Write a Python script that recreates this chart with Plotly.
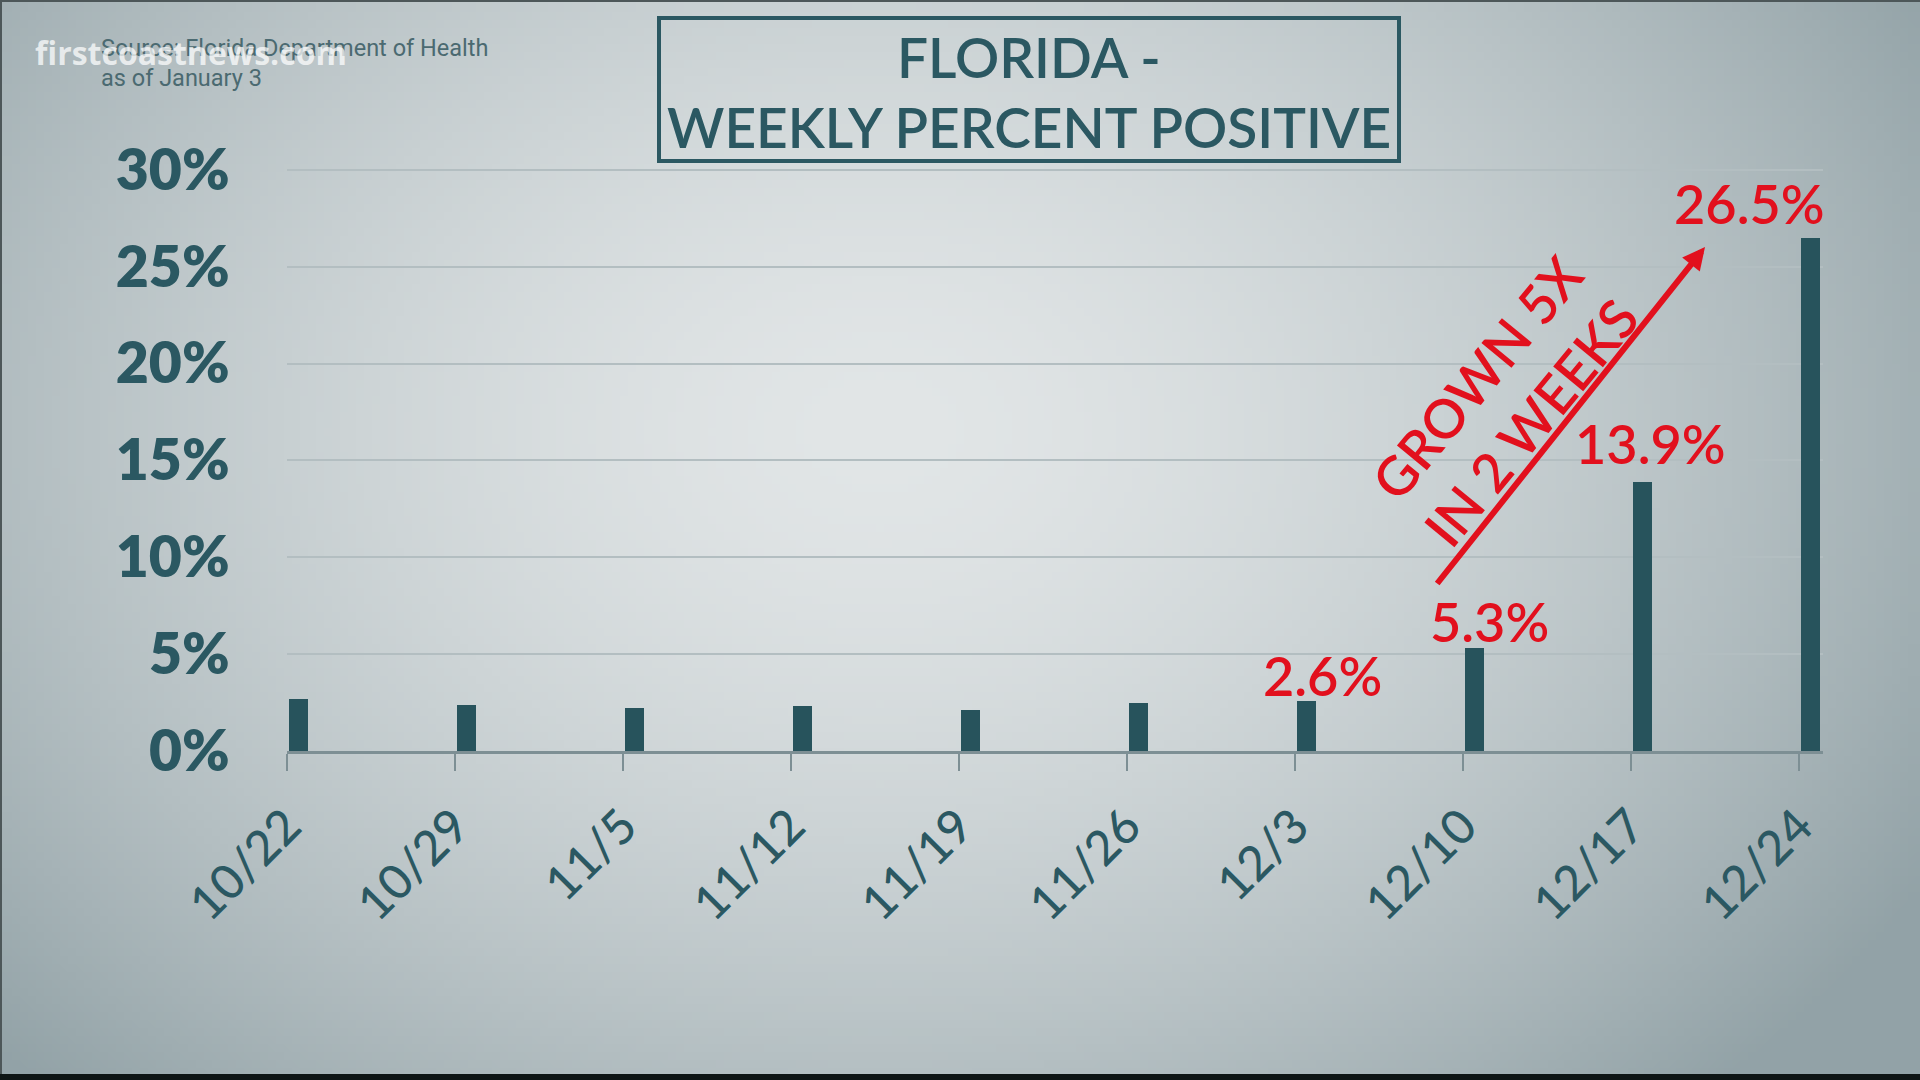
import base64
import struct
import zlib

import numpy as np
import plotly.graph_objects as go

# ---------------- data ----------------
weeks = ["10/22", "10/29", "11/5", "11/12", "11/19", "11/26", "12/3", "12/10", "12/17", "12/24"]
pct_positive = [2.7, 2.4, 2.2, 2.3, 2.1, 2.5, 2.6, 5.3, 13.9, 26.5]
y_ticks = [0, 5, 10, 15, 20, 25, 30]
y_tick_text = ["0%", "5%", "10%", "15%", "20%", "25%", "30%"]
labelled_weeks = ["12/3", "12/10", "12/17", "12/24"]
title_lines = ["FLORIDA -", "WEEKLY PERCENT POSITIVE"]
source_lines = ["Source: Florida Department of Health", "as of January 3"]
callout_lines = ["GROWN 5X", "IN 2 WEEKS"]
watermark = "firstcoastnews.com"

# ---------------- layout constants ----------------
W, H = 1920, 1080
L, R, T, B = 287, 97, 164, 329
PW, PH = W - L - R, H - T - B
TEAL = "#27535c"
TEXT_TEAL = "#2b5862"
RED = "#e2101d"
BAR_OFFSET, BAR_WIDTH = 0.013, 0.112
X_RANGE = [0.0, 9.145]
Y_RANGE = [0, 30.3]


def px(x):
    return (x - L) / PW


def py(y):
    return 1 - (y - T) / PH


# ---------------- background gradient ----------------
def png_uri(arr):
    h, w, _ = arr.shape
    raw = b"".join(b"\x00" + arr[i].tobytes() for i in range(h))

    def chunk(t, d):
        c = struct.pack(">I", len(d)) + t + d
        return c + struct.pack(">I", zlib.crc32(t + d) & 0xFFFFFFFF)

    png = (b"\x89PNG\r\n\x1a\n"
           + chunk(b"IHDR", struct.pack(">IIBBBBB", w, h, 8, 2, 0, 0, 0))
           + chunk(b"IDAT", zlib.compress(raw, 9))
           + chunk(b"IEND", b""))
    return "data:image/png;base64," + base64.b64encode(png).decode()


gw, gh = 240, 135
gx, gy = np.meshgrid(np.linspace(0, W, gw), np.linspace(0, H, gh))
t = np.sqrt(((gx - 880) / 1080) ** 2 + ((gy - 430) / 820) ** 2)
t = np.clip(t, 0, 1.3) ** 1.6
c0 = np.array([226, 230, 231], float)
c1 = np.array([160, 174, 178], float)
img = c0[None, None, :] + (c1 - c0)[None, None, :] * np.clip(t, 0, 1.2)[..., None]
img = np.clip(img, 0, 255).astype(np.uint8)
bg_uri = png_uri(img)

# ---------------- figure ----------------
fig = go.Figure()
fig.add_trace(go.Bar(
    x=weeks, y=pct_positive, marker=dict(color=TEAL, line=dict(width=0)),
    width=BAR_WIDTH, offset=BAR_OFFSET, hoverinfo="skip", showlegend=False,
))

annotations = []
# value labels
label_shift = {"12/3": (16, 25), "12/10": (15, 27), "12/17": (8, 38), "12/24": (-61, 34)}
for wk in labelled_weeks:
    i = weeks.index(wk)
    v = pct_positive[i]
    dx, dy = label_shift[wk]
    annotations.append(dict(
        x=i + BAR_OFFSET + BAR_WIDTH / 2, y=v, xref="x", yref="y",
        text=f"{v:.1f}%", showarrow=False, xanchor="center", yanchor="middle",
        xshift=dx, yshift=dy,
        font=dict(family="Lato", size=54, color=RED, weight=600),
    ))

# arrow (tip at 1705,247 ; tail at 1436,585 in page pixels)
annotations.append(dict(
    x=px(1705), y=py(247), xref="paper", yref="paper",
    ax=1436 - 1705, ay=585 - 247,
    text="", showarrow=True, arrowhead=2, arrowsize=0.75, arrowwidth=6,
    arrowcolor=RED, standoff=0, startstandoff=0,
))
# callout text
annotations.append(dict(
    x=px(1503), y=py(400), xref="paper", yref="paper",
    text="<br>".join(callout_lines), showarrow=False, textangle=-50.5,
    xanchor="center", yanchor="middle", align="center",
    font=dict(family="Lato", size=54, color=RED, weight=600),
))
# title
annotations.append(dict(
    x=px(1029), y=py(57), xref="paper", yref="paper", text=title_lines[0],
    showarrow=False, xanchor="center", yanchor="middle",
    font=dict(family="Lato", size=55, color=TEXT_TEAL, weight=600),
))
annotations.append(dict(
    x=px(1029), y=py(127), xref="paper", yref="paper", text=title_lines[1],
    showarrow=False, xanchor="center", yanchor="middle",
    font=dict(family="Lato", size=55, color=TEXT_TEAL, weight=600),
))
# source
annotations.append(dict(
    x=px(99), y=py(48), xref="paper", yref="paper", text=source_lines[0],
    showarrow=False, xanchor="left", yanchor="middle",
    font=dict(family="Roboto", size=23.5, color="#4b6a71"),
))
annotations.append(dict(
    x=px(99), y=py(78), xref="paper", yref="paper", text=source_lines[1],
    showarrow=False, xanchor="left", yanchor="middle",
    font=dict(family="Roboto", size=23.5, color="#4b6a71"),
))
# watermark
annotations.append(dict(
    x=px(33), y=py(53), xref="paper", yref="paper", text=watermark,
    showarrow=False, xanchor="left", yanchor="middle",
    font=dict(family="Open Sans", size=32, color="rgba(255,255,255,0.72)", weight=700),
))

shapes = [
    # title box
    dict(type="rect", xref="paper", yref="paper", x0=px(659), x1=px(1399), y0=py(18), y1=py(161),
         line=dict(color=TEXT_TEAL, width=4), fillcolor="rgba(0,0,0,0)", layer="above"),
    # bottom black band
    dict(type="rect", xref="paper", yref="paper", x0=px(0), x1=px(W), y0=py(1074), y1=py(1081),
         line=dict(width=0), fillcolor="#0e1515", layer="above"),
    # left / top edges
    dict(type="rect", xref="paper", yref="paper", x0=px(0), x1=px(2), y0=py(0), y1=py(1074),
         line=dict(width=0), fillcolor="#4d5759", layer="above"),
    dict(type="rect", xref="paper", yref="paper", x0=px(0), x1=px(W), y0=py(0), y1=py(2),
         line=dict(width=0), fillcolor="#4d5759", layer="above"),
]

fig.update_layout(
    width=W, height=H,
    margin=dict(l=L, r=R, t=T, b=B, pad=0),
    paper_bgcolor="#c9d2d5", plot_bgcolor="rgba(0,0,0,0)",
    showlegend=False, bargap=0,
    images=[dict(source=bg_uri, xref="paper", yref="paper", x=px(0), y=py(0),
                 sizex=W / PW, sizey=H / PH, xanchor="left", yanchor="top",
                 sizing="stretch", layer="below", opacity=1)],
    annotations=annotations, shapes=shapes,
    xaxis=dict(
        type="category", range=X_RANGE, showgrid=False, zeroline=False,
        showline=True, linecolor="#7d8f94", linewidth=2.5,
        ticks="outside", ticklen=17, tickwidth=2, tickcolor="#7d8f94",
        tickangle=-45, ticklabelstandoff=8,
        tickfont=dict(family="Lato", size=48, color=TEXT_TEAL, weight=500),
    ),
    yaxis=dict(
        range=Y_RANGE, tickvals=y_ticks, ticktext=y_tick_text,
        showgrid=True, gridcolor="#b3bec1", gridwidth=1.5, zeroline=False,
        showline=False, ticks="outside", ticklen=45, tickcolor="rgba(0,0,0,0)",
        tickfont=dict(family="Lato", size=57, color=TEXT_TEAL, weight=800),
    ),
)

fig.write_html("out.html")
